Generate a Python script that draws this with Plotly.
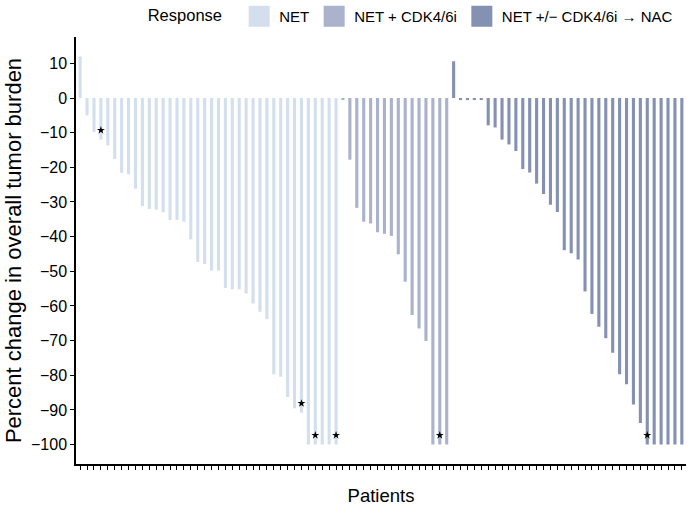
import plotly.graph_objects as go

# ---- data ----
net_values = [12, -5, -9.8, -12, -13.7, -17.6, -21.6, -22, -26.2, -31.2, -32, -32.2,
              -33, -35.2, -35.2, -35.7, -40.8, -47.3, -47.9, -49.8, -49.8, -54.8, -55.2,
              -55.2, -56.4, -59.3, -61.7, -63.8, -79.7, -80.4, -86.3, -89.5, -90.8,
              -100, -100, -100, -100, -100]
cdk_values = [-0.6, -17.8, -31.7, -35.7, -36.2, -38.7, -39.2, -39.8, -45.1, -53.0,
              -62.6, -66.5, -70.1, -100, -100, -100]
nac_values = [10.6, -0.6, -0.6, -0.6, -0.6, -7.9, -8.5, -12.0, -13.4, -15.3, -20.5,
              -21.5, -24.7, -27.7, -30.8, -32.9, -43.9, -44.8, -46.6, -55.8, -62.3,
              -66.0, -69.3, -73.5, -79.7, -82.6, -88.4, -93.8, -100, -100, -100, -100,
              -100, -100]
group_names = ["NET", "NET + CDK4/6i", "NET +/\u2212 CDK4/6i \u2192 NAC"]
group_colors = ["#d4dfed", "#aab2cc", "#8591b2"]
starred_patients = [4, 33, 35, 38, 53, 83]   # 1-based patient positions with *
y_ticks = [10, 0, -10, -20, -30, -40, -50, -60, -70, -80, -90, -100]

# ---- build ----
groups = [net_values, cdk_values, nac_values]
all_values = net_values + cdk_values + nac_values
n = len(all_values)

fig = go.Figure()
start = 1
for name, vals, col in zip(group_names, groups, group_colors):
    xs = list(range(start, start + len(vals)))
    fig.add_trace(go.Bar(x=xs, y=vals, name=name, marker=dict(color=col, line=dict(width=0)),
                         width=0.45, showlegend=False, legendgroup=name))
    # legend key (large square swatch)
    fig.add_trace(go.Scatter(x=[None], y=[None], mode="markers", name=name,
                             legendgroup=name,
                             marker=dict(symbol="square", size=22, color=col,
                                         line=dict(color=col, width=5)),
                             showlegend=True))
    start += len(vals)

star_y = [all_values[i - 1] + 2.7 for i in starred_patients]
fig.add_trace(go.Scatter(x=starred_patients, y=star_y, mode="markers",
                         marker=dict(symbol="star", size=6, color="black"),
                         showlegend=False, hoverinfo="skip"))

fig.update_layout(
    width=688, height=510,
    margin=dict(l=76, r=2, t=37, b=46),
    paper_bgcolor="white", plot_bgcolor="white",
    font=dict(family="Liberation Sans, Arial, sans-serif", color="black"),
    barmode="overlay",
    legend=dict(orientation="h", yref="container", y=1, yanchor="top",
                xref="container", x=0.985, xanchor="right",
                title=dict(text="Response  ", font=dict(size=16.5)),
                font=dict(size=15), traceorder="normal", itemsizing="trace",
                itemwidth=30, tracegroupgap=0),
)
fig.update_xaxes(range=[0.4, n + 0.6], tickvals=list(range(1, n + 1)), showticklabels=False,
                 ticks="outside", ticklen=4, tickwidth=1, tickcolor="black",
                 showline=True, linecolor="black", linewidth=1.5, showgrid=False,
                 zeroline=False,
                 title=dict(text="Patients", font=dict(size=18.5), standoff=20))
fig.update_yaxes(range=[-105.6, 17.6], tickvals=y_ticks, ticks="outside", ticklen=4,
                 tickwidth=1, tickcolor="black", tickfont=dict(size=16),
                 showline=True, linecolor="black", linewidth=1.5, showgrid=False,
                 zeroline=False,
                 title=dict(text="Percent change in overall tumor burden", font=dict(size=22),
                            standoff=3))

fig.write_html("out.html")
